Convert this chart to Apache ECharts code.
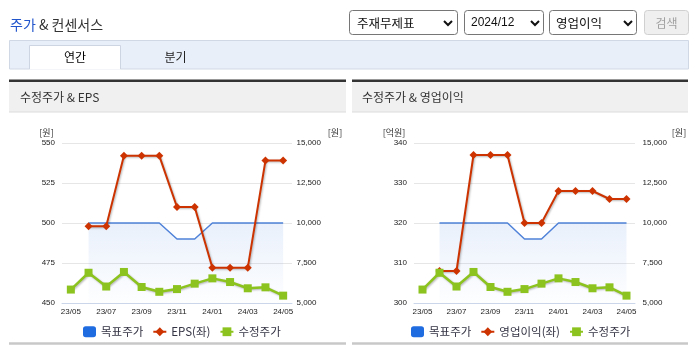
<!DOCTYPE html>
<html>
<head>
<meta charset="utf-8">
<script src="https://cdn.jsdelivr.net/npm/echarts@6/dist/echarts.min.js"></script>
<style>
  html, body { margin: 0; padding: 0; background: #fff; }
  #chart { width: 695px; height: 349px; }
</style>
</head>
<body>
<div id="chart"></div>
<script>
// Monthly series for the stock (23/05 – 24/05)
const months = ['23/05','23/06','23/07','23/08','23/09','23/10','23/11','23/12','24/01','24/02','24/03','24/04','24/05'];
const targetPrice = [null, 10000, 10000, 10000, 10000, 10000, 9000, 9000, 10000, 10000, 10000, 10000, 10000];
const adjPrice = [5840, 6890, 6030, 6940, 6000, 5700, 5870, 6210, 6540, 6310, 5920, 5980, 5460];
const eps = [null, 498, 498, 542, 542, 542, 510, 510, 472, 472, 472, 539, 539];
const opProfit = [null, 308, 308, 337, 337, 337, 320, 320, 328, 328, 328, 326, 326];

// Axis ranges and tick steps
const epsAxis = [450, 550, 25];
const opAxis = [300, 340, 10];
const priceAxis = [5000, 15000, 2500];

const KR = "'Noto Sans CJK KR', sans-serif";
const NUM = "'Liberation Sans', Arial, sans-serif";
const withComma = v => String(v).replace(/\B(?=(\d{3})+(?!\d))/g, ',');

const chart = echarts.init(document.getElementById('chart'), null, { renderer: 'canvas' });

function xAxisFor(grid) {
  return {
    type: 'category', gridIndex: grid, data: months, boundaryGap: true,
    axisLine: { lineStyle: { color: '#ccd6eb', width: 1 } },
    axisTick: { length: 5, lineStyle: { color: '#ccd6eb' }, interval: i => i === 0 || i % 2 === 1 },
    axisLabel: { interval: 1, margin: 5, fontSize: 8, color: '#222', fontFamily: NUM }
  };
}
function yAxisFor(grid, pos, range, split, fmt, margin) {
  return {
    type: 'value', gridIndex: grid, position: pos,
    min: range[0], max: range[1], interval: range[2],
    axisLine: { show: false }, axisTick: { show: false },
    axisLabel: { fontSize: 8, color: '#222', fontFamily: NUM, margin: margin, formatter: fmt },
    splitLine: { show: split, lineStyle: { color: '#e6e6e6', width: 1 } }
  };
}

const shadow = { shadowColor: 'rgba(0,0,0,0.28)', shadowBlur: 2, shadowOffsetX: 1, shadowOffsetY: 1 };
const areaFill = new echarts.graphic.LinearGradient(0, 0, 0, 1, [
  { offset: 0, color: 'rgba(70,130,225,0.17)' },
  { offset: 1, color: 'rgba(70,130,225,0.01)' }
]);

function seriesFor(grid, leftAxis, rightAxis, name, values) {
  return [
    {
      name: '목표주가', type: 'line', xAxisIndex: grid, yAxisIndex: rightAxis, data: targetPrice,
      showSymbol: false, symbol: 'none', z: 1,
      itemStyle: { color: '#1f6be0' },
      lineStyle: { color: '#4f82d8', width: 1.5 },
      areaStyle: { origin: 'start', color: areaFill }
    },
    {
      name: name, type: 'line', xAxisIndex: grid, yAxisIndex: leftAxis, data: values,
      symbol: 'diamond', symbolSize: 8, z: 3,
      itemStyle: { color: '#cc3300' },
      lineStyle: Object.assign({ color: '#cc3300', width: 2 }, shadow)
    },
    {
      name: '수정주가', type: 'line', xAxisIndex: grid, yAxisIndex: rightAxis, data: adjPrice,
      symbol: 'rect', symbolSize: 8, z: 4,
      itemStyle: { color: '#8cc31e' },
      lineStyle: Object.assign({ color: '#8cc31e', width: 2.5 }, shadow)
    }
  ];
}

function legendFor(left, name) {
  return {
    left: left, top: 321, itemWidth: 13, itemHeight: 11, itemGap: 9,
    textStyle: { fontSize: 11.5, color: '#334', fontFamily: KR },
    data: [{ name: '목표주가', icon: 'roundRect', itemStyle: { color: '#1f6be0' } }, name, '수정주가']
  };
}

function txt(text, x, y, size, color, align, extra) {
  return {
    type: 'text', silent: true,
    style: Object.assign({ text: text, x: x, y: y, fill: color, font: size + 'px ' + KR, align: align || 'left', verticalAlign: 'middle' }, extra || {})
  };
}
function box(x, y, w, h, fill, stroke, r) {
  return { type: 'rect', silent: true, shape: { x: x, y: y, width: w, height: h, r: r || 0 }, style: { fill: fill, stroke: stroke || null, lineWidth: 1 } };
}
function chevron(cx, cy) {
  return { type: 'polyline', silent: true, shape: { points: [[cx - 4, cy - 2], [cx, cy + 2], [cx + 4, cy - 2]] }, style: { stroke: '#111', lineWidth: 2, fill: null } };
}

const page = [
  // page heading
  txt('{a|주가} & 컨센서스', 10, 25, 14, '#333', 'left', { rich: { a: { fill: '#2255cc', font: '14px ' + KR } } }),
  // selectors
  box(349.5, 10.5, 108, 24, '#fff', '#767676', 3), txt('주재무제표', 357, 23, 12.5, '#111'), chevron(448, 23),
  box(464.5, 10.5, 79, 24, '#fff', '#767676', 3), txt('2024/12', 471, 23, 12, '#111', 'left', { font: '12px ' + NUM }), chevron(535, 23),
  box(549.5, 10.5, 87, 24, '#fff', '#767676', 3), txt('영업이익', 556, 23, 12.5, '#111'), chevron(628, 23),
  box(644.5, 10.5, 44, 24, '#efefef', '#d0d0d0', 3), txt('검색', 666.5, 23, 12, '#a0a0a0', 'center'),
  // period tabs
  box(9.5, 40.5, 679, 28.5, '#e9eff9', '#d0d8e6'),
  box(29.5, 45.5, 91, 24, '#fff'),
  { type: 'polyline', silent: true, shape: { points: [[29.5, 69], [29.5, 45.5], [120.5, 45.5], [120.5, 69]] }, style: { stroke: '#cdd5e2', lineWidth: 1, fill: null } },
  txt('연간', 75, 57, 12, '#000', 'center'),
  txt('분기', 175.5, 57, 12, '#222', 'center'),
  // panel headers
  box(9, 79.5, 337, 2.5, '#333'), box(9, 82, 337, 30, '#f0f0f0'), box(9, 111.5, 337, 1, '#dcdcdc'),
  txt('수정주가 & EPS', 20, 97.5, 12, '#333'),
  box(352, 79.5, 336, 2.5, '#333'), box(352, 82, 336, 30, '#f0f0f0'), box(352, 111.5, 336, 1, '#dcdcdc'),
  txt('수정주가 & 영업이익', 362, 97.5, 12, '#333'),
  // axis units
  txt('[원]', 46.5, 132.5, 9, '#333', 'center'),
  txt('[원]', 335, 132.5, 9, '#333', 'center'),
  txt('[억원]', 394, 132.5, 9, '#333', 'center'),
  txt('[원]', 679, 132.5, 9, '#333', 'center'),
  // panel footers
  box(9, 342.3, 337, 2.5, '#c8c8c8'),
  box(352, 342.3, 336, 2.5, '#c8c8c8')
];

chart.setOption({
  animation: false,
  backgroundColor: '#fff',
  textStyle: { fontFamily: KR },
  graphic: page,
  legend: [legendFor(78, 'EPS(좌)'), legendFor(406, '영업이익(좌)')],
  grid: [
    { left: 62, top: 143, width: 230, height: 160 },
    { left: 414, top: 143, width: 221, height: 160 }
  ],
  xAxis: [xAxisFor(0), xAxisFor(1)],
  yAxis: [
    yAxisFor(0, 'left', epsAxis, true, null, 7),
    yAxisFor(0, 'right', priceAxis, false, withComma, 4.5),
    yAxisFor(1, 'left', opAxis, true, null, 7),
    yAxisFor(1, 'right', priceAxis, false, withComma, 7.5)
  ],
  series: [].concat(seriesFor(0, 0, 1, 'EPS(좌)', eps), seriesFor(1, 2, 3, '영업이익(좌)', opProfit))
});
</script>
</body>
</html>
